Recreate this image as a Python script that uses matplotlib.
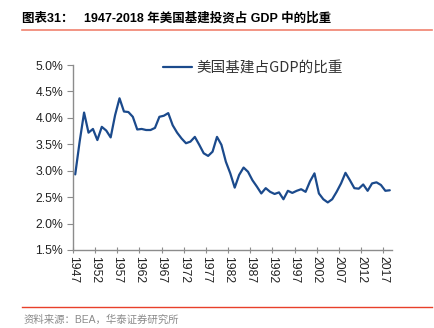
import numpy as np
import matplotlib.pyplot as plt
from matplotlib.ticker import FuncFormatter

plt.rcParams['font.family'] = ['Liberation Sans', 'Noto Sans CJK SC', 'DejaVu Sans']

# data: infrastructure investment share of GDP (%)
years = np.arange(1947, 2019)
share = [2.93, 3.55, 4.10, 3.72, 3.79, 3.58, 3.83, 3.76, 3.63, 4.05,
         4.37, 4.12, 4.11, 4.02, 3.78, 3.79, 3.77, 3.77, 3.81, 4.02,
         4.04, 4.09, 3.86, 3.72, 3.61, 3.52, 3.55, 3.64, 3.49, 3.33,
         3.28, 3.36, 3.64, 3.49, 3.17, 2.95, 2.68, 2.92, 3.06, 2.98,
         2.82, 2.70, 2.57, 2.67, 2.60, 2.56, 2.59, 2.46, 2.62, 2.58,
         2.62, 2.65, 2.60, 2.80, 2.95, 2.57, 2.46, 2.40, 2.46, 2.60,
         2.76, 2.96, 2.82, 2.67, 2.66, 2.74, 2.62, 2.76, 2.78, 2.73,
         2.62, 2.63]
tick_years = np.arange(1947, 2018, 5)
series_name = '美国基建占GDP的比重'
title_text = '图表31：   1947-2018 年美国基建投资占 GDP 中的比重'
source_text = '资料来源：BEA，华泰证券研究所'

W, H = 435, 328
fig = plt.figure(figsize=(W / 100, H / 100), dpi=100)
ax = fig.add_axes([73 / W, 1 - 250 / H, (392 - 73) / W, (250 - 65) / H])

ax.plot(years + 0.5, share, color='#1b4a8c', lw=1.6,
        solid_joinstyle='round', solid_capstyle='round', label=series_name)

ax.set_xlim(1947, 2019)
ax.set_ylim(1.5, 5.0)
ax.set_yticks(np.arange(1.5, 5.01, 0.5))
ax.yaxis.set_major_formatter(FuncFormatter(lambda v, p: '%.1f%%' % v))
ax.set_xticks(tick_years)
ax.set_xticklabels([str(y) for y in tick_years], rotation=-90)

for s in ['top', 'right']:
    ax.spines[s].set_visible(False)
for s in ['left', 'bottom']:
    ax.spines[s].set_color('#8c8c8c')
    ax.spines[s].set_linewidth(1.0)
ax.tick_params(axis='y', direction='out', length=4, width=0.8, color='#8c8c8c',
               labelsize=8.8, labelcolor='#222222', pad=3)
ax.tick_params(axis='x', direction='inout', length=5, width=0.8, color='#8c8c8c',
               labelsize=8.8, labelcolor='#222222', pad=2)

leg = ax.legend(loc='center left', bbox_to_anchor=(0.282, 0.985), frameon=False,
                borderpad=0, borderaxespad=0,
                handlelength=2.0, handletextpad=0.3,
                prop={'family': ['Noto Sans CJK SC'], 'size': 10.5, 'weight': 'light'})
for t in leg.get_texts():
    t.set_color('#333333')

fig.text(22 / W, 1 - 18 / H, title_text, fontsize=9, fontweight='bold',
         va='center', ha='left', family=['Liberation Sans', 'Noto Sans CJK SC'])
fig.add_artist(plt.Line2D([22 / W, 432 / W], [1 - 30 / H, 1 - 30 / H],
                          color='#f0826e', lw=1.2))
fig.add_artist(plt.Line2D([22 / W, 432 / W], [1 - 307 / H, 1 - 307 / H],
                          color='#e8402a', lw=1.0))
fig.text(24 / W, 1 - 320 / H, source_text, fontsize=7.5, color='#8a8a8a',
         va='center', ha='left', family=['Liberation Sans', 'Noto Sans CJK SC'])

fig.savefig('out.png', dpi=100)
